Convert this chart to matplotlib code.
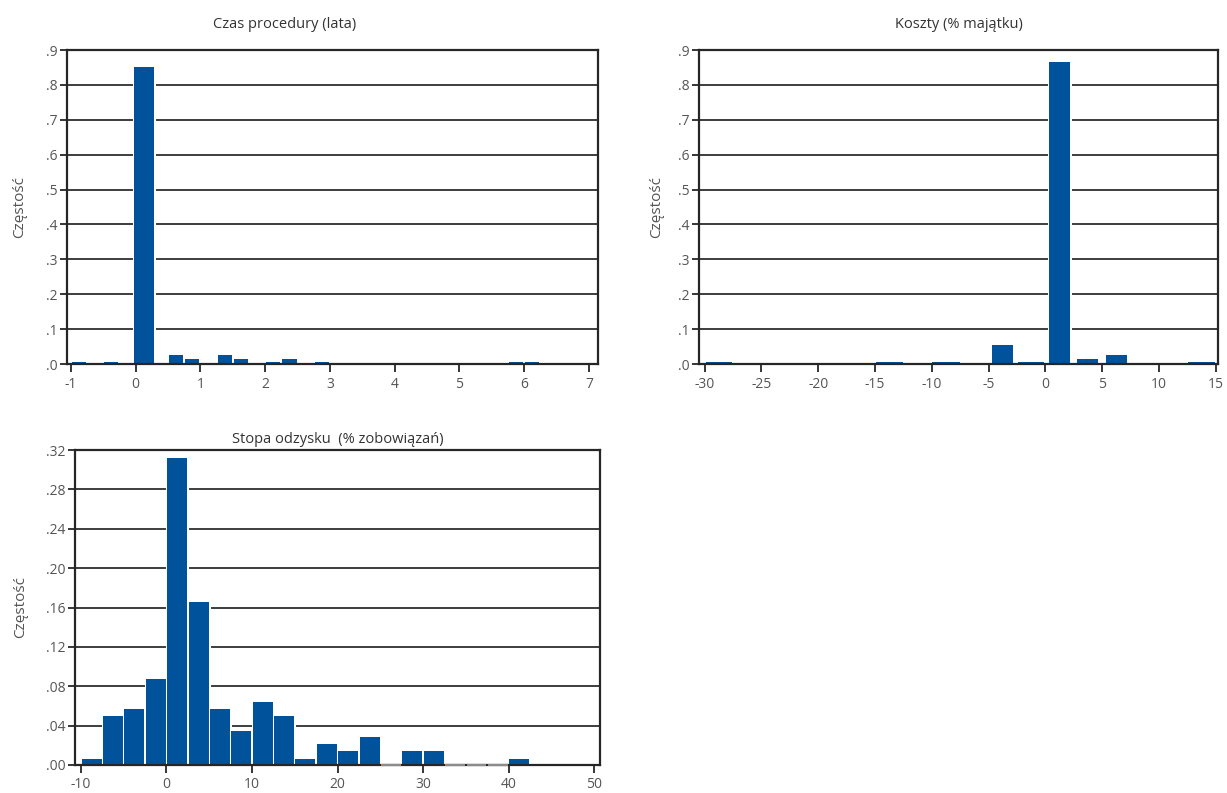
import matplotlib
matplotlib.use("Agg")
import matplotlib.pyplot as plt
import matplotlib.patheffects as pe
import numpy as np

plt.rcParams['font.family'] = ['Open Sans', 'DejaVu Sans']

# ---------------- data ----------------
# Chart 1: Czas procedury (lata) - bin width 0.25
czas_bin_left = [-1.0, -0.5, 0.0, 0.5, 0.75, 1.25, 1.5, 2.0, 2.25, 2.75, 5.75, 6.0]
czas_freq = [0.007, 0.007, 0.852, 0.027, 0.013, 0.027, 0.013, 0.007, 0.014, 0.007, 0.007, 0.007]
czas_xticks = [-1, 0, 1, 2, 3, 4, 5, 6, 7]
czas_yticks = [0.0, 0.1, 0.2, 0.3, 0.4, 0.5, 0.6, 0.7, 0.8, 0.9]
czas_ylabels = ['.0', '.1', '.2', '.3', '.4', '.5', '.6', '.7', '.8', '.9']

# Chart 2: Koszty (% majatku) - bin centres
koszty_bin_center = [-28.75, -13.75, -8.75, -3.75, -1.25, 1.25, 3.75, 6.25, 13.75]
koszty_freq = [0.005, 0.007, 0.007, 0.055, 0.005, 0.866, 0.015, 0.027, 0.007]
koszty_xticks = [-30, -25, -20, -15, -10, -5, 0, 5, 10, 15]
koszty_yticks = czas_yticks
koszty_ylabels = czas_ylabels

# Chart 3: Stopa odzysku (% zobowiazan) - bin width 2.5 starting at -10
odzysk_bin_left = [-10, -7.5, -5, -2.5, 0, 2.5, 5, 7.5, 10, 12.5, 15, 17.5, 20, 22.5,
                   25, 27.5, 30, 32.5, 35, 37.5, 40]
odzysk_freq = [0.006, 0.050, 0.057, 0.087, 0.312, 0.166, 0.057, 0.035, 0.064, 0.050,
               0.006, 0.021, 0.014, 0.028, 0.0, 0.014, 0.014, 0.0, 0.0, 0.0, 0.006]
odzysk_xticks = [-10, 0, 10, 20, 30, 40, 50]
odzysk_yticks = [0.0, 0.04, 0.08, 0.12, 0.16, 0.20, 0.24, 0.28, 0.32]
odzysk_ylabels = ['.00', '.04', '.08', '.12', '.16', '.20', '.24', '.28', '.32']

titles = ['Czas procedury (lata)', 'Koszty (% majątku)', 'Stopa odzysku  (% zobowiązań)']
ylabel = 'Częstość'

# ---------------- style ----------------
BAR = '#00529B'
GRID = '#2e2e2e'
SPINE = '#262626'
TXT = '#555555'
W, H = 1227, 793
HALO = [pe.Stroke(linewidth=2.2, foreground='white'), pe.Normal()]

fig = plt.figure(figsize=(W / 100, H / 100), dpi=100)


def make_ax(l, r, t, b):
    return fig.add_axes([l / W, 1 - b / H, (r - l) / W, (b - t) / H])


def draw_bars(ax, x, h, w):
    bars = ax.bar(x, h, width=w, color=BAR, linewidth=0, zorder=3)
    for b in bars:
        b.set_path_effects(HALO)
        b.set_edgecolor(BAR)
        b.set_linewidth(0.01)
    return bars


def style(ax, xlim, ylim, xticks, yticks, ylabels, title, title_x=0.5, title_pad=10):
    ax.set_xlim(*xlim)
    ax.set_ylim(*ylim)
    ax.set_xticks(xticks)
    ax.set_xticklabels([str(v) for v in xticks])
    ax.set_yticks(yticks)
    ax.set_yticklabels(ylabels)
    for y in yticks[1:-1]:
        ax.axhline(y, color=GRID, lw=1.3, zorder=1)
    for s in ax.spines.values():
        s.set_color(SPINE)
        s.set_linewidth(1.6)
        s.set_zorder(5)
    ax.tick_params(axis='both', direction='out', length=5, width=1.3, color=SPINE,
                   labelsize=10, labelcolor=TXT, pad=2)
    ax.tick_params(axis='x', length=6, pad=3)
    ax.set_ylabel(ylabel, fontsize=11, color=TXT, labelpad=14)
    ax.set_title(title, fontsize=10.5, color='#333333', x=title_x, pad=title_pad)


# Chart 1
ax1 = make_ax(67, 598, 50, 364)
c1 = [l + 0.125 for l in czas_bin_left]
w1 = [0.3 if f > 0.5 else 0.22 for f in czas_freq]
c1 = [c + (0.005 if f > 0.5 else 0.0) for c, f in zip(c1, czas_freq)]
draw_bars(ax1, c1, czas_freq, w1)
style(ax1, (-1.06, 7.14), (0, 0.9), czas_xticks, czas_yticks, czas_ylabels,
      titles[0], title_x=0.41, title_pad=16)
ax1.yaxis.set_label_coords(-0.075, 0.5)

# Chart 2
ax2 = make_ax(699, 1218, 50, 364)
w2 = [2.3, 2.4, 2.4, 1.85, 2.3, 1.85, 1.85, 1.85, 2.4]
draw_bars(ax2, koszty_bin_center, koszty_freq, w2)
style(ax2, (-30.5, 15.2), (0, 0.9), koszty_xticks, koszty_yticks, koszty_ylabels,
      titles[1], title_pad=16)
ax2.yaxis.set_label_coords(-0.068, 0.5)

# Chart 3
ax3 = make_ax(75, 600, 450, 765)
c3 = [l + 1.25 for l in odzysk_bin_left]
nz = [f > 0 for f in odzysk_freq]
draw_bars(ax3, [c for c, k in zip(c3, nz) if k], [f for f, k in zip(odzysk_freq, nz) if k], 2.35)
for c, k in zip(c3, nz):
    if not k:
        ax3.plot([c - 1.15, c + 1.15], [0, 0], color='#8c8c8c', lw=1.6, zorder=6,
                 solid_capstyle='butt', clip_on=False)
style(ax3, (-10.7, 50.7), (0, 0.32), odzysk_xticks, odzysk_yticks, odzysk_ylabels,
      titles[2], title_pad=5)
ax3.yaxis.set_label_coords(-0.09, 0.5)

fig.savefig('out.png', dpi=100)
